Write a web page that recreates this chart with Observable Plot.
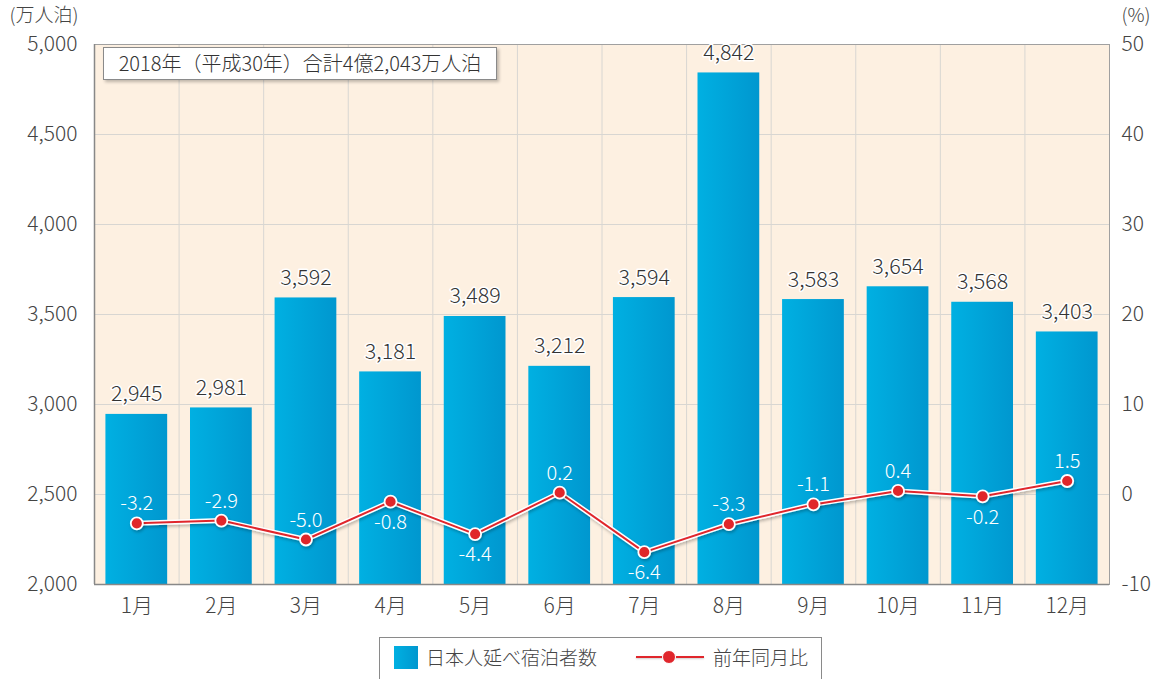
<!DOCTYPE html>
<html>
<head>
<meta charset="utf-8">
<script src="https://cdn.jsdelivr.net/npm/d3@7"></script>
<script src="https://cdn.jsdelivr.net/npm/@observablehq/plot@0.6"></script>
<style>
  html, body { margin: 0; padding: 0; background: #fff; }
  body { font-family: "Noto Sans CJK JP", "Noto Sans", sans-serif; font-weight: 300; }
  #wrap { position: relative; width: 1157px; height: 679px; overflow: hidden; }
  #note { position: absolute; left: 103px; top: 47px; width: 394px; height: 33px; box-sizing: border-box;
          border: 1px solid #8a8a8a; background: #fff; box-shadow: 2px 2px 3px rgba(0,0,0,0.25);
          font-size: 20px; color: #333; line-height: 30px; text-align: center; white-space: nowrap; }
  #legend { position: absolute; left: 379px; top: 637px; width: 443px; height: 50px; box-sizing: border-box;
            border: 1px solid #8a8a8a; background: #fff; font-size: 19px; color: #444; }
  #legend .sw { position: absolute; left: 14px; top: 8px; width: 24px; height: 23px;
                background: linear-gradient(to right, #00b0e2, #0097cf); }
  #legend .t1 { position: absolute; left: 46px; top: 5px; line-height: 28px; }
  #legend .ln { position: absolute; left: 256px; top: 18px; width: 68px; height: 2px; background: #e0262c;
                box-shadow: 0 1px 2px rgba(0,0,0,0.2); }
  #legend .dt { position: absolute; left: 282px; top: 12px; width: 14px; height: 14px; box-sizing: border-box;
                border-radius: 50%; background: #e0262c; border: 1.5px solid #fff; }
  #legend .t2 { position: absolute; left: 333px; top: 5px; line-height: 28px; }
</style>
</head>
<body>
<div id="wrap">
  <div id="chart"></div>
  <div id="note">2018年（平成30年）合計4億2,043万人泊</div>
  <div id="legend">
    <div class="sw"></div><div class="t1">日本人延べ宿泊者数</div>
    <div class="ln"></div><div class="dt"></div><div class="t2">前年同月比</div>
  </div>
</div>
<script>
const months = ["1月","2月","3月","4月","5月","6月","7月","8月","9月","10月","11月","12月"];
const guests = [2945, 2981, 3592, 3181, 3489, 3212, 3594, 4842, 3583, 3654, 3568, 3403];
const yoy = [-3.2, -2.9, -5.0, -0.8, -4.4, 0.2, -6.4, -3.3, -1.1, 0.4, -0.2, 1.5];
const belowLabels = ["4月", "5月", "7月", "11月"];
const leftTicks = [2000, 2500, 3000, 3500, 4000, 4500, 5000];
const rightTicks = [-10, 0, 10, 20, 30, 40, 50];

// map right axis (%) onto left axis domain
const toLeft = v => 2500 + v * 50;
const fromLeft = v => (v - 2500) / 50;

const barHalf = 0.365; // half bar width in category units
const data = months.map((m, i) => ({i: i + 1, month: m, guests: guests[i], yoy: yoy[i], y2: toLeft(yoy[i]), below: belowLabels.includes(m)}));
const idx = months.map((m, i) => i + 1);
const bounds = idx.slice(0, -1).map(i => i + 0.5);

const W = 1157, H = 630, mL = 94, mR = 48, mT = 44, mB = 46;

const fmt = d3.format(",");
const fontFam = '"Noto Sans CJK JP", "Noto Sans", sans-serif';

const chart = Plot.plot({
  width: W, height: H,
  marginLeft: mL, marginRight: mR, marginTop: mT, marginBottom: mB,
  style: {fontFamily: fontFam, fontSize: "21px", fontWeight: 300, color: "#444", background: "transparent", overflow: "visible"},
  x: {domain: [0.5, 12.5], label: null},
  y: {domain: [2000, 5000], label: null},
  marks: [
    Plot.frame({fill: "#fdf0e1", stroke: "none"}),
    Plot.ruleY(leftTicks.slice(1, -1), {stroke: "#d8d6d2", strokeWidth: 1}),
    Plot.ruleX(bounds, {stroke: "#d8d6d2", strokeWidth: 1}),
    Plot.rectY(data, {x1: d => d.i - barHalf, x2: d => d.i + barHalf, y1: 2000, y2: "guests", fill: "url(#barGrad)"}),
    Plot.frame({stroke: "#a0a0a0", strokeWidth: 1}),
    Plot.axisY({ticks: leftTicks, tickFormat: fmt, tickSize: 0, tickPadding: 17, anchor: "left", fontSize: 21}),
    Plot.axisY({ticks: leftTicks, tickFormat: d => fromLeft(d), tickSize: 0, tickPadding: 12, anchor: "right", fontSize: 21}),
    Plot.axisX({ticks: idx, tickFormat: i => months[i - 1], tickSize: 0, tickPadding: 14, fontSize: 21}),
    Plot.ruleX([0.5], {stroke: "#888", strokeWidth: 1.5}),
    Plot.ruleY([2000], {stroke: "#888", strokeWidth: 1.5}),
    Plot.text(data, {x: "i", y: "guests", text: d => fmt(d.guests), lineAnchor: "bottom", dy: -13, fill: "#333",
      stroke: "#fff", strokeWidth: 3, paintOrder: "stroke", fontSize: 21.5}),
    Plot.line(data, {x: "i", y: "y2", stroke: "#fff", strokeWidth: 5}),
    Plot.line(data, {x: "i", y: "y2", stroke: "#e0262c", strokeWidth: 2}),
    Plot.dot(data, {x: "i", y: "y2", r: 6, fill: "#e0262c", stroke: "#fff", strokeWidth: 1.8}),
    Plot.text(data, {x: "i", y: "y2", text: d => d.yoy.toFixed(1), fill: "#fff", fontSize: 20,
      filter: d => !d.below, lineAnchor: "bottom", dy: -13}),
    Plot.text(data, {x: "i", y: "y2", text: d => d.yoy.toFixed(1), fill: "#fff", fontSize: 20,
      filter: d => d.below, lineAnchor: "top", dy: 13}),
    Plot.text(["(万人泊)"], {frameAnchor: "top-left", dx: -85, dy: -29, textAnchor: "start", lineAnchor: "middle", fill: "#444", fontSize: 19}),
    Plot.text(["(%)"], {frameAnchor: "top-right", dx: 12, dy: -29, textAnchor: "start", lineAnchor: "middle", fill: "#444", fontSize: 19})
  ]
});

const svg = d3.select(chart);
const defs = svg.insert("defs", ":first-child");
const g = defs.append("linearGradient").attr("id", "barGrad").attr("x1", "0").attr("x2", "1").attr("y1", "0").attr("y2", "0");
g.append("stop").attr("offset", "0%").attr("stop-color", "#00b0e2");
g.append("stop").attr("offset", "100%").attr("stop-color", "#0097cf");
const f = defs.append("filter").attr("id", "shadow").attr("x", "-5%").attr("y", "-20%").attr("width", "110%").attr("height", "160%");
f.append("feDropShadow").attr("dx", 1).attr("dy", 2).attr("stdDeviation", 1.5).attr("flood-color", "#000").attr("flood-opacity", 0.25);
svg.selectAll('g[aria-label="line"]').filter((d, i) => i === 0).attr("filter", "url(#shadow)");
svg.selectAll('g[aria-label="dot"]').attr("filter", "url(#shadow)");

document.getElementById("chart").appendChild(chart);
</script>
</body>
</html>
